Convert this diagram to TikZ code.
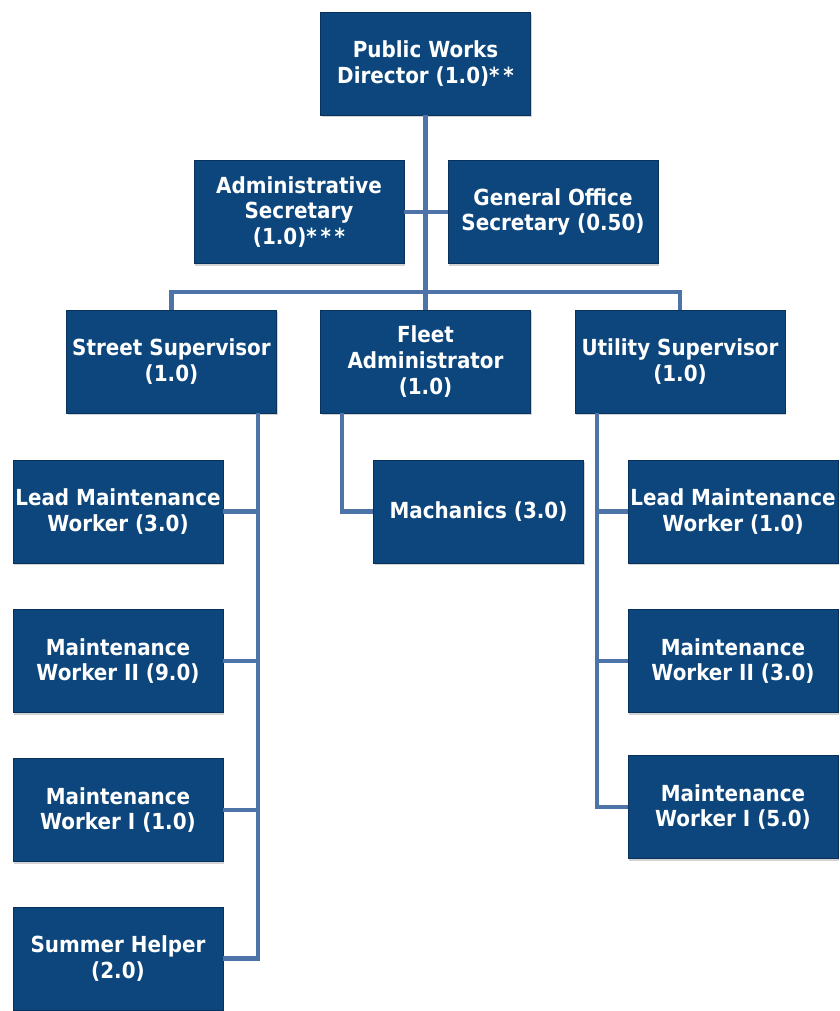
\documentclass[tikz,border=0pt]{standalone}
\usepackage{fontspec}
\setmainfont{DejaVu Sans}[FakeStretch=0.9]
\usetikzlibrary{positioning,shadows}
\definecolor{boxblue}{RGB}{12,70,124}
\definecolor{boxedge}{RGB}{8,50,92}
\definecolor{linkblue}{RGB}{78,115,168}

\begin{document}
\begin{tikzpicture}
    [x=0.02cm,y=-0.02cm,
     every node/.style={draw=boxedge, fill=boxblue, text=white, align=center,
       minimum width=4.2cm, minimum height=2.06cm, inner sep=1pt,
       font=\fontsize{12.6}{14.6}\selectfont\bfseries,
       drop shadow={shadow xshift=0.6pt, shadow yshift=-1.2pt, opacity=0.35}},
     link/.style={draw=linkblue, line width=2.3pt}]
  \useasboundingbox (0,0) rectangle (839,1011);

  \node (n1) at (425.5,63.5) {Public Works\\Director (1.0)*\,*};
  \node (n2) at (299,212) {Administrative\\Secretary\\(1.0)*\,*\,*};
  \node (n3) at (553,212) {General Office\\Secretary (0.50)};
  \node (n4) at (171.5,361.5) {Street Supervisor\\(1.0)};
  \node (n5) at (425.5,361.5) {Fleet\\Administrator\\(1.0)};
  \node (n6) at (680,361.5) {Utility Supervisor\\(1.0)};
  \node (n7) at (118,511.5) {Lead Maintenance\\Worker (3.0)};
  \node (n8) at (118,661) {Maintenance\\Worker II (9.0)};
  \node (n9) at (118,810) {Maintenance\\Worker I (1.0)};
  \node (n10) at (118,958.5) {Summer Helper\\(2.0)};
  \node (n11) at (478.5,511.5) {Machanics (3.0)};
  \node (n12) at (733,511.5) {Lead Maintenance\\Worker (1.0)};
  \node (n13) at (733,661) {Maintenance\\Worker II (3.0)};
  \node (n14) at (733,807) {Maintenance\\Worker I (5.0)};

  \coordinate (b0) at (425.5,292);
  \coordinate (t1) at (258,413);
  \coordinate (t2) at (342,413);
  \coordinate (t3) at (597,413);

  \draw[link] (n1.south) -- (n5.north);
  \draw[link] (n2.east) -- (n3.west);
  \draw[link] (n4.north) |- (b0) -| (n6.north);

  \foreach \to in {n7,n8,n9,n10}
    \draw[link] (t1) |- (\to.east);
  \draw[link] (t2) |- (n11.west);
  \foreach \to in {n12,n13,n14}
    \draw[link] (t3) |- (\to.west);
\end{tikzpicture}
\end{document}
